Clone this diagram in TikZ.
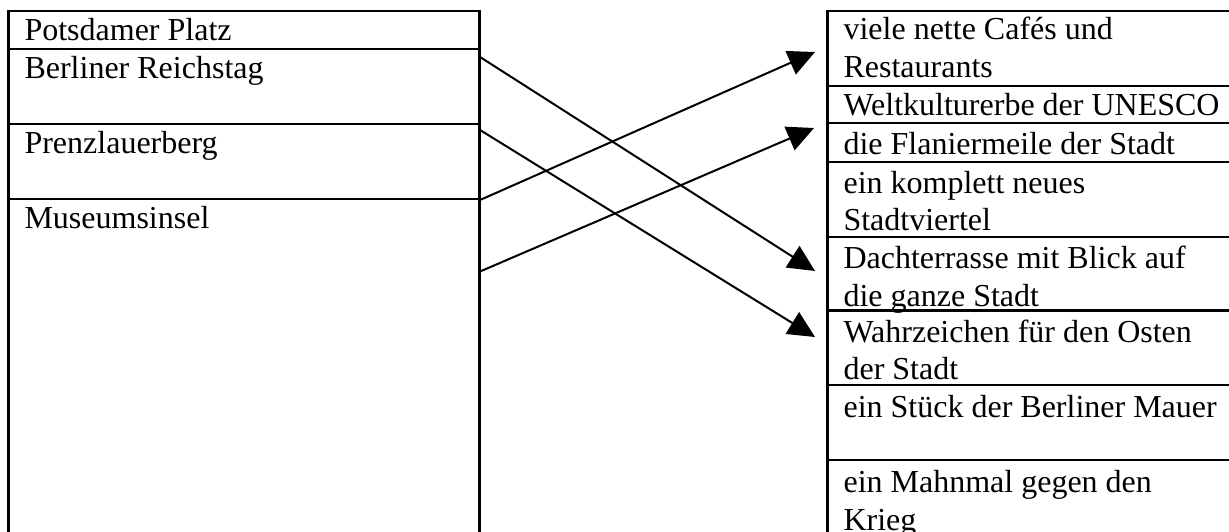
\documentclass[tikz,border=0pt]{standalone}
\usepackage{fontspec}
\setmainfont{Liberation Serif}
\usetikzlibrary{arrows.meta}
\tikzset{
  grid/.style={line width=0.8pt},
  txt/.style={anchor=north west, inner sep=0pt, align=left,
    font=\fontsize{12pt}{14.06pt}\selectfont},
  link/.style={line width=0.75pt, -{Triangle[length=10pt,width=9.5pt]}}
}
\begin{document}
\begin{tikzpicture}[x=0.375pt,y=-0.375pt]
\useasboundingbox (0,0) rectangle (1229,531);
\clip (0,0) rectangle (1229,531);
% left table
\draw[grid] (8.5,540) -- (8.5,11) -- (479.5,11) -- (479.5,540);
\draw[grid] (8.5,49) -- (479.5,49);
\draw[grid] (8.5,124) -- (479.5,124);
\draw[grid] (8.5,199) -- (479.5,199);
% right table
\draw[grid] (827.5,540) -- (827.5,11) -- (1240,11);
\foreach \yy in {85.7,123.3,162.3,237.3,310.5,385,460}
  \draw[grid] (827.5,\yy) -- (1240,\yy);
% left texts
\node[txt] (l1) at (24,13.25) {\strut Potsdamer Platz};
\node[txt] (l2) at (24,51.75) {\strut Berliner Reichstag};
\node[txt] (l3) at (24,126.75) {\strut Prenzlauerberg};
\node[txt] (l4) at (24,201.25) {\strut Museumsinsel};
% right texts
\node[txt] (r1) at (843,12.75) {\strut viele nette Cafés und\\\strut Restaurants};
\node[txt] (r2) at (843,88.75) {\strut Weltkulturerbe der UNESCO};
\node[txt] (r3) at (843,127.75) {\strut die Flaniermeile der Stadt};
\node[txt] (r4) at (843,166.25) {\strut ein komplett neues\\\strut Stadtviertel};
\node[txt] (r5) at (843,241.75) {\strut Dachterrasse mit Blick auf\\\strut die ganze Stadt};
\node[txt] (r6) at (843,315.25) {\strut Wahrzeichen für den Osten\\\strut der Stadt};
\node[txt] (r7) at (843,390.25) {\strut ein Stück der Berliner Mauer};
\node[txt] (r8) at (843,465.75) {\strut ein Mahnmal gegen den\\\strut Krieg};
% connector ends
\coordinate (sA) at (480,57);
\coordinate (sB) at (480,130);
\coordinate (sC) at (480,200);
\coordinate (sD) at (480,271.5);
\coordinate (eA) at (815,271);
\coordinate (eB) at (815,337);
\coordinate (eC) at (815,52);
\coordinate (eD) at (814,128);
\draw[link] (sA) -- (eA);
\draw[link] (sB) -- (eB);
\draw[link] (sC) -- (eC);
\draw[link] (sD) -- (eD);
\end{tikzpicture}
\end{document}
